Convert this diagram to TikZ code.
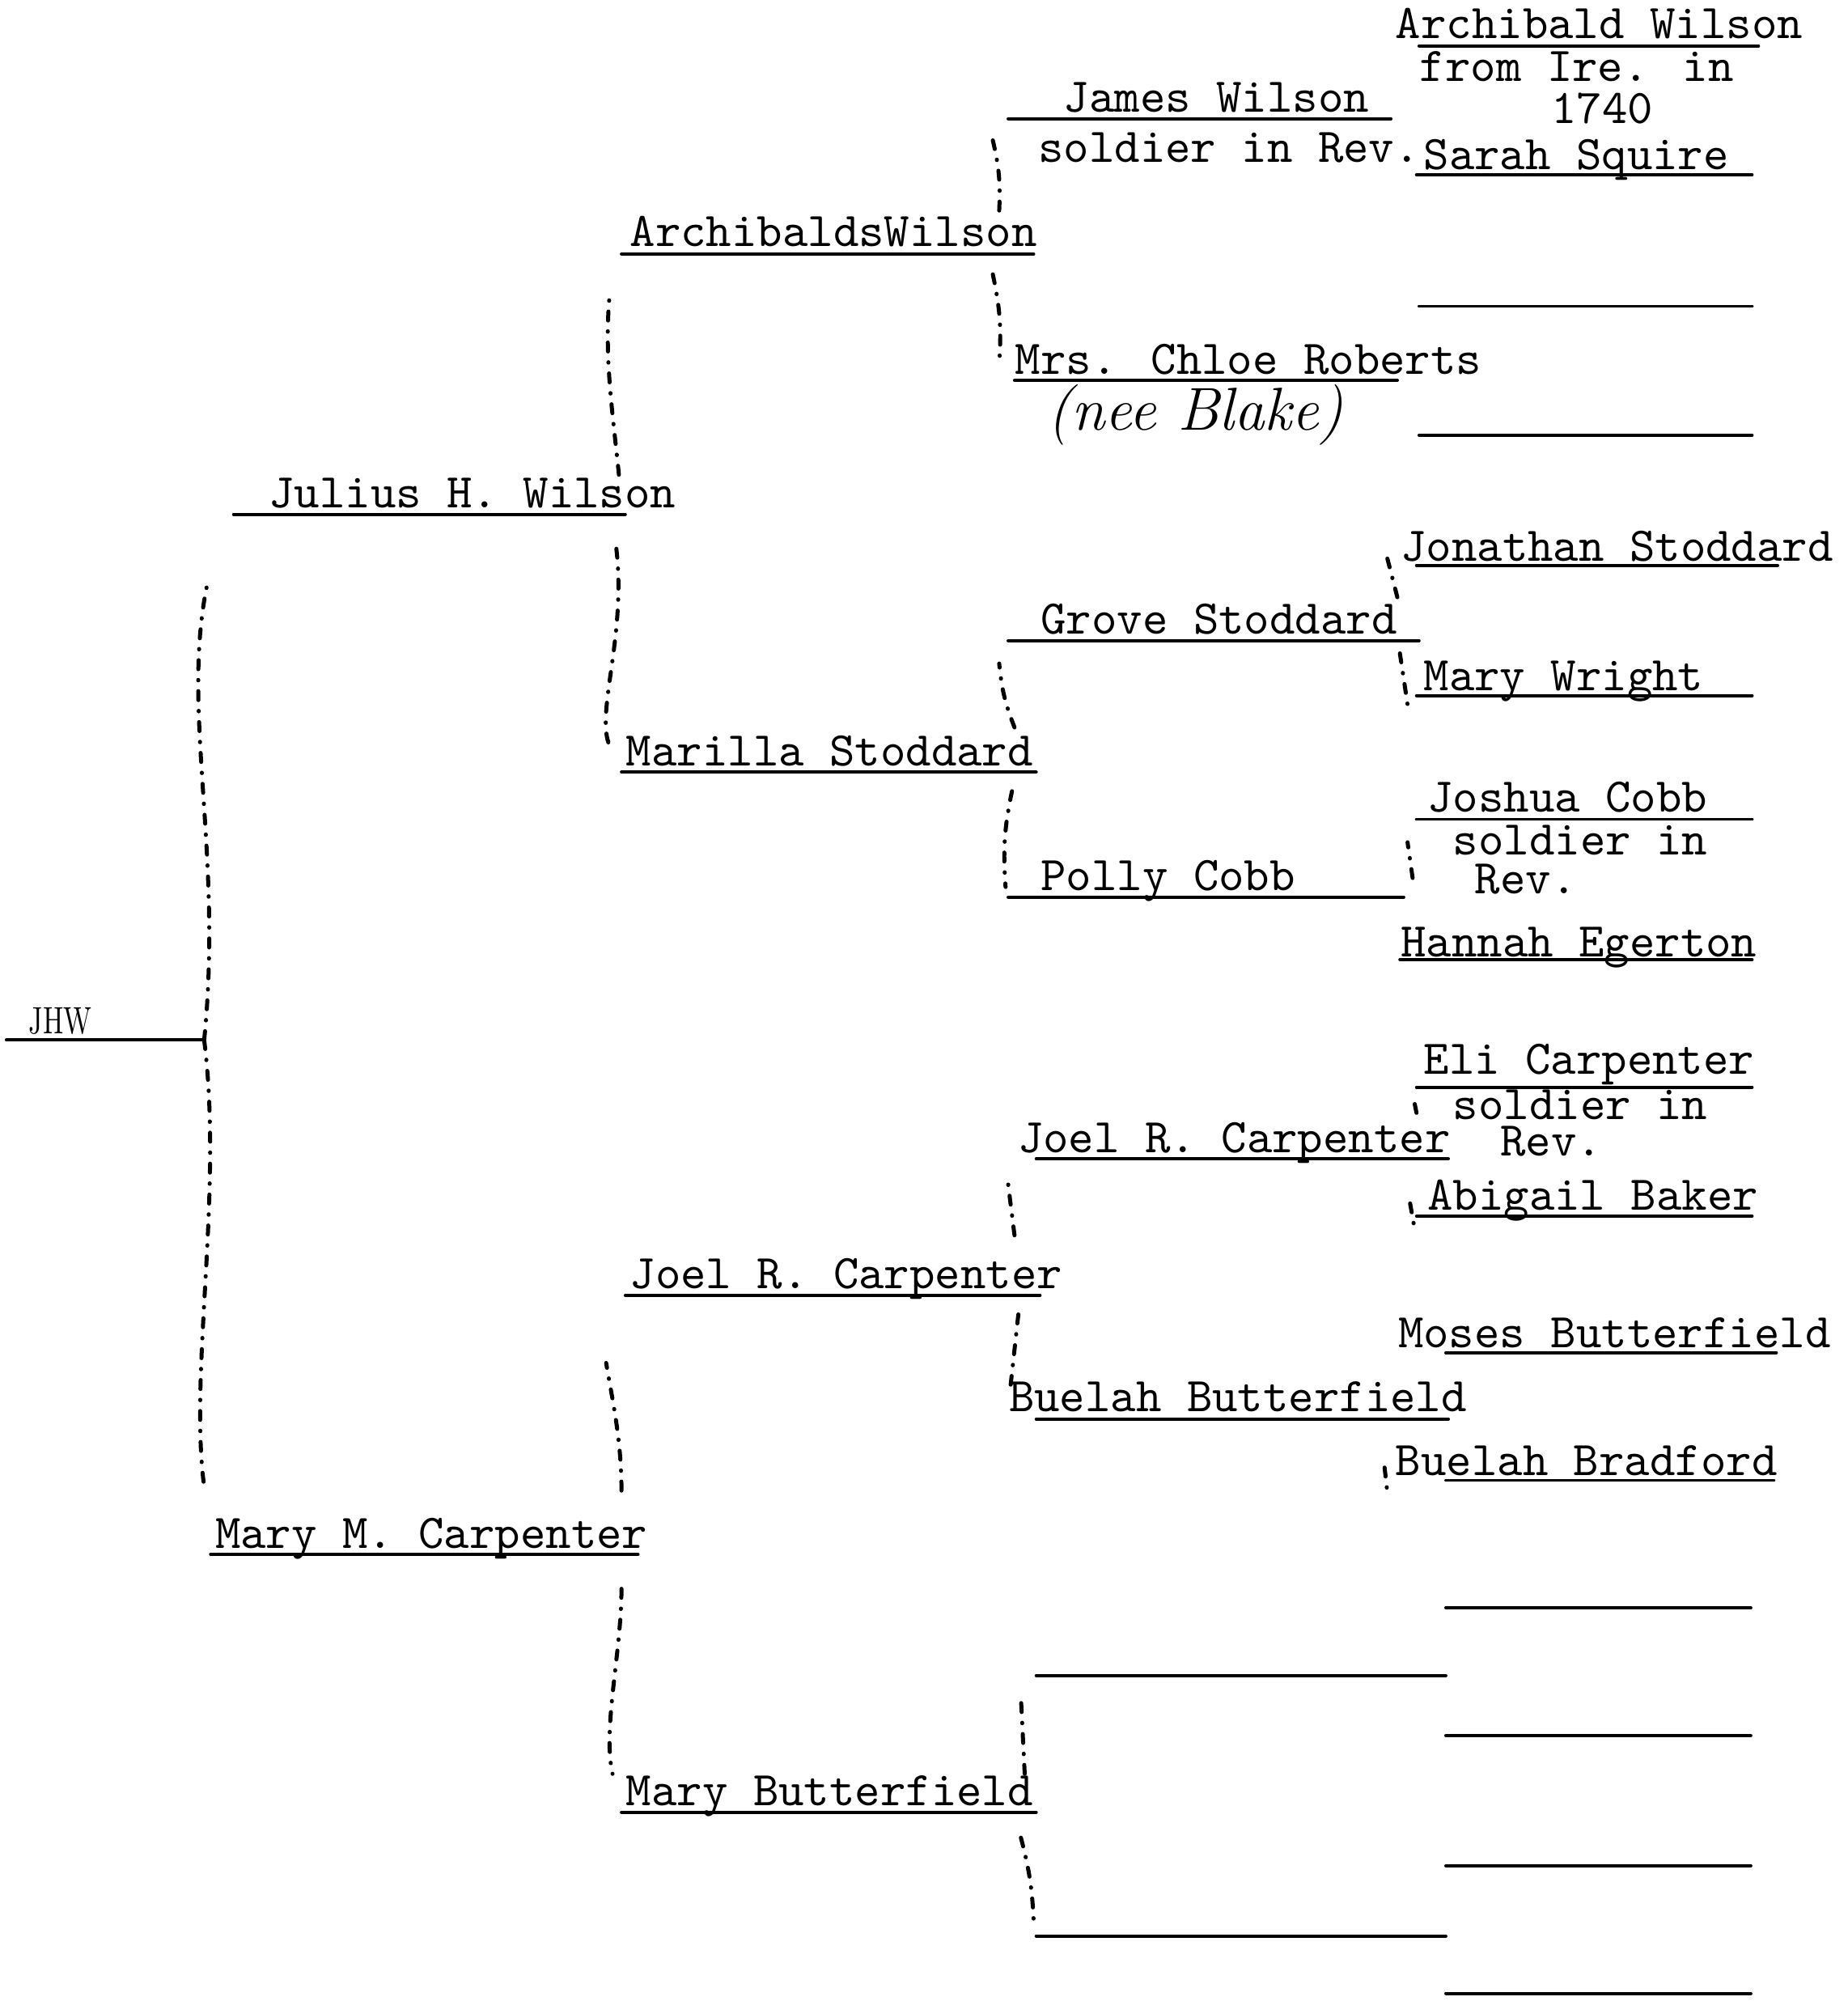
\documentclass[tikz,border=0pt]{standalone}
\begin{document}
\begin{tikzpicture}[line join=round,line cap=round,
	nm/.style={anchor=base west,inner sep=0pt,font=\fontsize{10.8}{12}\selectfont\ttfamily},
	ln/.style={line width=.7pt},
	br/.style={line width=.9pt,dash pattern=on 2pt off 2.4pt on .1pt off 2.4pt}]
	\useasboundingbox (0,0) rectangle (14.48,-15.68);
	%lignes
	\foreach \n/\a/\b/\y in {jhw/0.05/1.60/8.15, julius/1.83/4.90/4.03, maryc/1.65/5.00/12.18,
		archi/4.87/8.10/1.99, marilla/4.87/8.12/6.05, joeltwo/4.90/8.15/10.15, maryb/4.87/8.12/14.20,
		james/7.90/10.90/0.93, chloe/7.95/10.95/2.98, grove/7.90/11.12/5.02, polly/7.90/11.00/7.03,
		joel/8.12/11.35/9.08, buelah/8.12/11.35/11.12, mbone/8.12/11.33/13.13, mbtwo/8.12/11.33/15.17,
		archw/11.12/13.78/0.36, sarah/11.10/13.73/1.37, chone/11.12/13.73/2.40, chtwo/11.12/13.73/3.41,
		jonathan/11.10/13.93/4.43, wright/11.10/13.73/5.45, joshua/11.10/13.73/6.42, hannah/10.97/13.73/7.52,
		eli/11.10/13.73/8.52, abigail/11.10/13.73/9.53, moses/11.33/13.92/10.60, bradford/11.33/13.90/11.60,
		bone/11.33/13.72/12.60, btwo/11.33/13.72/13.60, bthree/11.33/13.72/14.62, bfour/11.33/13.72/15.62}
	{
		\coordinate (\n-l) at (\a,-\y);
		\coordinate (\n-r) at (\b,-\y);
		\draw[ln] (\n-l)--(\n-r);
	}
	%noms
	\node (tjhw) at (0.22,-8.10) [anchor=base west,inner sep=0pt]{\scalebox{.7}[1]{\fontsize{8.5}{10}\selectfont JHW}};
	\node (tjulius) at (2.10,-3.98) [nm]{Julius H. Wilson};
	\node (tmaryc) at (1.68,-12.13) [nm]{Mary M. Carpenter};
	\node (tarchi) at (4.93,-1.93) [nm]{Archibald\rlap{s}\ Wilson};
	\node (tmarilla) at (4.90,-6.00) [nm]{Marilla Stoddard};
	\node (tjoeltwo) at (4.93,-10.10) [nm]{Joel R. Carpenter};
	\node (tmaryb) at (4.90,-14.15) [nm]{Mary Butterfield};
	\node (tjames) at (8.33,-0.88) [nm]{James Wilson};
	\node (tjamesrev) at (8.13,-1.27) [nm]{soldier in Rev.};
	\node (tchloe) at (7.95,-2.93) [nm]{Mrs. Chloe Roberts};
	\node (tblake) at (8.20,-3.37) [anchor=base west,inner sep=0pt,font=\fontsize{13.5}{15}\selectfont\itshape]{(nee Blake)};
	\node (tgrove) at (8.15,-4.97) [nm]{Grove Stoddard};
	\node (tpolly) at (8.15,-6.98) [nm]{Polly Cobb};
	\node (tjoel) at (7.97,-9.03) [nm]{Joel R. Carpenter};
	\node (tbuelah) at (7.90,-11.06) [nm]{Buelah Butterfield};
	\node (tarchw) at (10.93,-0.30) [nm]{Archibald Wilson};
	\node (tire) at (11.12,-0.64) [nm]{from Ire. in};
	\node (tyear) at (12.15,-0.97) [nm]{1740};
	\node (tsarah) at (11.15,-1.33) [nm]{Sarah Squire};
	\node (tjonathan) at (10.97,-4.40) [nm]{Jonathan Stoddard};
	\node (twright) at (11.15,-5.41) [nm]{Mary Wright};
	\node (tjoshua) at (11.18,-6.36) [nm]{Joshua Cobb};
	\node (tjoshuasol) at (11.38,-6.70) [nm]{soldier in};
	\node (tjoshuarev) at (11.55,-7.00) [nm]{Rev.};
	\node (thannah) at (10.97,-7.50) [nm]{Hannah Egerton};
	\node (teli) at (11.15,-8.42) [nm]{Eli Carpenter};
	\node (telisol) at (11.38,-8.77) [nm]{soldier in};
	\node (telirev) at (11.75,-9.06) [nm]{Rev.};
	\node (tabigail) at (11.18,-9.48) [nm]{Abigail Baker};
	\node (tmoses) at (10.95,-10.56) [nm]{Moses Butterfield};
	\node (tbradford) at (10.93,-11.56) [nm]{Buelah Bradford};
	%accolades
	\draw[br] (jhw-r) .. controls +(0.15,1.5) and +(-0.22,-1.0) .. ([shift={(-.20,-.52)}]julius-l);
	\draw[br] (jhw-r) .. controls +(0.15,-1.2) and +(-0.12,0.9) .. ([shift={(-.05,.53)}]maryc-l);
	\draw[br] ([shift={(-.05,.31)}]julius-r) .. controls +(-0.05,0.5) and +(-0.05,-0.5) .. ([shift={(-.09,-.29)}]archi-l);
	\draw[br] ([shift={(-.07,-.27)}]julius-r) .. controls +(0.08,-0.7) and +(-0.12,0.25) .. ([shift={(-.09,.20)}]marilla-l);
	\draw[br] ([shift={(-.13,.50)}]maryc-r) .. controls +(0,0.4) and +(0.05,-0.3) .. ([shift={(-.15,-.53)}]joeltwo-l);
	\draw[br] ([shift={(-.13,-.27)}]maryc-r) .. controls +(0,-0.5) and +(-0.08,0.35) .. ([shift={(-.07,.30)}]maryb-l);
	\draw[br] ([shift={(-.27,.34)}]archi-r) to[bend right=8] ([shift={(-.12,-.17)}]james-l);
	\draw[br] ([shift={(-.32,-.16)}]archi-r) to[bend left=8] ([shift={(-.12,.13)}]chloe-l);
	\draw[br] ([shift={(-.17,.35)}]marilla-r) to[bend left=8] ([shift={(-.07,-.18)}]grove-l);
	\draw[br] ([shift={(-.19,-.15)}]marilla-r) to[bend right=8] ([shift={(-.02,.08)}]polly-l);
	\draw[br] ([shift={(-.20,.47)}]joeltwo-r) -- ([shift={(-.22,-.20)}]joel-l);
	\draw[br] ([shift={(-.17,-.15)}]joeltwo-r) -- ([shift={(-.20,.27)}]buelah-l);
	\draw[br] ([shift={(-.09,.30)}]maryb-r) -- ([shift={(-.12,-.17)}]mbone-l);
	\draw[br] ([shift={(-.12,-.20)}]maryb-r) to[bend left=6] ([shift={(-.02,.12)}]mbtwo-l);
	%vers les arriere-grands-parents
	\draw[br] ([shift={(-.17,.34)}]grove-r) -- ([shift={(-.23,.06)}]jonathan-l);
	\draw[br] ([shift={(-.15,-.10)}]grove-r) -- ([shift={(-.07,-.07)}]wright-l);
	\draw[br] ([shift={(.07,.15)}]polly-r) -- ([shift={(-.07,-.18)}]joshua-l);
	\draw[br] ([shift={(-.25,.36)}]joel-r) -- ([shift={(-.02,-.10)}]eli-l);
	\draw[br] ([shift={(-.30,-.35)}]joel-r) -- ([shift={(-.02,-.07)}]abigail-l);
	\draw[br] ([shift={(-.50,-.38)}]buelah-r) -- ([shift={(-.46,-.08)}]bradford-l);
\end{tikzpicture}
\end{document}
